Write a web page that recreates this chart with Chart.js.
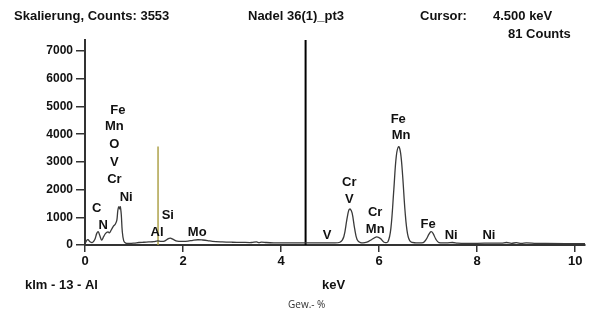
<!DOCTYPE html>
<html>
<head>
<meta charset="utf-8">
<script src="https://cdn.jsdelivr.net/npm/chart.js@4"></script>
<style>
    body { margin: 0; background: #fff; }
    #wrap { width: 592px; height: 313px; }
</style>
</head>
<body>
<div id="wrap"><canvas id="spectrumChart" width="592" height="313"></canvas></div>
<script>
// spectrum: energy (keV) and counts
const energyKeV = [
    0.00, 0.03, 0.06, 0.10, 0.15, 0.20, 0.24, 0.27, 0.30, 0.34, 0.38, 0.42, 0.47, 0.50, 0.54, 0.58,
    0.62, 0.65, 0.67, 0.69, 0.71, 0.72, 0.74, 0.76, 0.79, 0.83, 0.90, 1.00, 1.10, 1.20, 1.30, 1.40,
    1.48, 1.55, 1.62, 1.70, 1.74, 1.80, 1.88, 2.00, 2.10, 2.20, 2.30, 2.40, 2.50, 2.60, 2.80, 3.00,
    3.20, 3.40, 3.50, 3.55, 3.60, 3.70, 3.85, 4.00, 4.50, 5.00, 5.20, 5.28, 5.34, 5.38, 5.41, 5.45,
    5.50, 5.55, 5.62, 5.75, 5.85, 5.95, 6.03, 6.10, 6.18, 6.24, 6.30, 6.35, 6.40, 6.44, 6.48, 6.53,
    6.58, 6.64, 6.75, 6.90, 6.96, 7.02, 7.06, 7.10, 7.16, 7.22, 7.40, 7.50, 7.60, 7.80, 8.00, 8.30,
    8.50, 8.60, 8.70, 8.80, 8.90, 9.00, 9.20, 9.40, 10.20
]
const counts = [
    40, 150, 190, 120, 90, 200, 420, 480, 350, 180, 300, 420, 470, 440, 560, 680,
    760, 900, 1250, 1380, 1300, 1380, 1100, 500, 150, 70, 60, 70, 90, 100, 110, 120,
    150, 130, 140, 230, 250, 200, 140, 130, 140, 170, 190, 180, 160, 130, 110, 100,
    95, 90, 110, 85, 105, 90, 80, 80, 80, 80, 100, 300, 900, 1250, 1300, 1150,
    600, 200, 90, 100, 200, 290, 230, 100, 120, 600, 2000, 3200, 3553, 3300, 2500, 1200,
    400, 120, 80, 90, 200, 400, 480, 420, 200, 90, 80, 90, 70, 60, 60, 70,
    70, 90, 60, 85, 55, 75, 60, 55, 50
]

// element labels: text, keV, counts (centre of text)
const peakNames = ['Fe', 'Mn', 'O', 'V', 'Cr', 'Ni', 'C', 'N', 'Al', 'Si', 'Mo',
    'V', 'Cr', 'V', 'Cr', 'Mn', 'Fe', 'Mn', 'Fe', 'Ni', 'Ni']
const peakKeV = [0.67, 0.60, 0.60, 0.60, 0.60, 0.84, 0.24, 0.37, 1.47, 1.69, 2.29,
    4.94, 5.39, 5.39, 5.92, 5.92, 6.39, 6.45, 7.00, 7.47, 8.24]
const peakCounts = [4840, 4290, 3640, 2980, 2360, 1710, 1310, 690, 440, 1050, 470,
    360, 2250, 1640, 1160, 580, 4550, 3960, 760, 330, 330]

const cursorKeV = 4.5
const markerKeV = 1.49
const markerCounts = 3553
const yTicks = [0, 1000, 2000, 3000, 4000, 5000, 6000, 7000]
const xTicks = [0, 2, 4, 6, 8, 10]

const spectrum = energyKeV.map((e, i) => ({x: e, y: counts[i]}))

const labelsPlugin = {
    id: 'edsLabels',
    afterDraw(chart) {
        const ctx = chart.ctx
        const xs = chart.scales.x
        const ys = chart.scales.y
        ctx.save()
        ctx.fillStyle = '#111'
        ctx.textAlign = 'center'
        ctx.textBaseline = 'middle'
        ctx.font = 'bold 13px "Liberation Sans", Arial, sans-serif'
        peakNames.forEach((name, i) => {
            ctx.fillText(name, xs.getPixelForValue(peakKeV[i]), ys.getPixelForValue(peakCounts[i]))
        })

        ctx.textAlign = 'left'
        ctx.textBaseline = 'alphabetic'
        ctx.fillText('Skalierung, Counts: 3553', 14, 20)
        ctx.fillText('Nadel 36(1)_pt3', 248, 20)
        ctx.fillText('Cursor:', 420, 20)
        ctx.fillText('4.500 keV', 493, 20)
        ctx.fillText('81 Counts', 508, 38)
        ctx.fillText('klm - 13 - Al', 25, 289)
        ctx.fillText('keV', 322, 289)

        ctx.font = '10px "Open Sans", sans-serif'
        ctx.fillStyle = '#333'
        ctx.fillText('Gew.- %', 288, 308)
        ctx.restore()
    }
}

const ctx = document.getElementById('spectrumChart').getContext('2d')

new Chart(ctx, {
    type: 'line',
    data: {
        datasets: [
            {
                data: spectrum,
                borderColor: '#3a3a3a',
                borderWidth: 1.3,
                pointRadius: 0,
                tension: 0.35,
                fill: false
            },
            {
                data: [{x: markerKeV, y: 0}, {x: markerKeV, y: markerCounts}],
                borderColor: '#aea24a',
                borderWidth: 1.5,
                pointRadius: 0
            },
            {
                data: [{x: cursorKeV, y: 0}, {x: cursorKeV, y: 7400}],
                borderColor: '#000',
                borderWidth: 2,
                pointRadius: 0
            }
        ]
    },
    options: {
        responsive: false,
        animation: false,
        layout: {padding: {left: 0, right: 7, top: 40, bottom: 0}},
        plugins: {
            legend: {display: false},
            tooltip: {enabled: false}
        },
        scales: {
            x: {
                type: 'linear',
                min: 0,
                max: 10.2,
                afterBuildTicks: scale => { scale.ticks = xTicks.map(v => ({value: v})) },
                afterFit: scale => { scale.height = 68 },
                grid: {display: true, drawOnChartArea: false, tickLength: 7, color: '#333', lineWidth: 1.5},
                border: {color: '#333', width: 2},
                ticks: {
                    color: '#111',
                    padding: 2,
                    maxRotation: 0,
                    callback: v => String(v),
                    font: {family: '"Liberation Sans", Arial, sans-serif', size: 13, weight: 'bold'}
                }
            },
            y: {
                min: 0,
                max: 7400,
                afterBuildTicks: scale => { scale.ticks = yTicks.map(v => ({value: v})) },
                afterFit: scale => { scale.width = 85 },
                grid: {display: true, drawOnChartArea: false, tickLength: 9, color: '#333', lineWidth: 1.5},
                border: {color: '#333', width: 2},
                ticks: {
                    color: '#111',
                    padding: 3,
                    callback: v => String(v),
                    font: {family: '"Liberation Sans", Arial, sans-serif', size: 12, weight: 'bold'}
                }
            }
        }
    },
    plugins: [labelsPlugin]
})
</script>
</body>
</html>
